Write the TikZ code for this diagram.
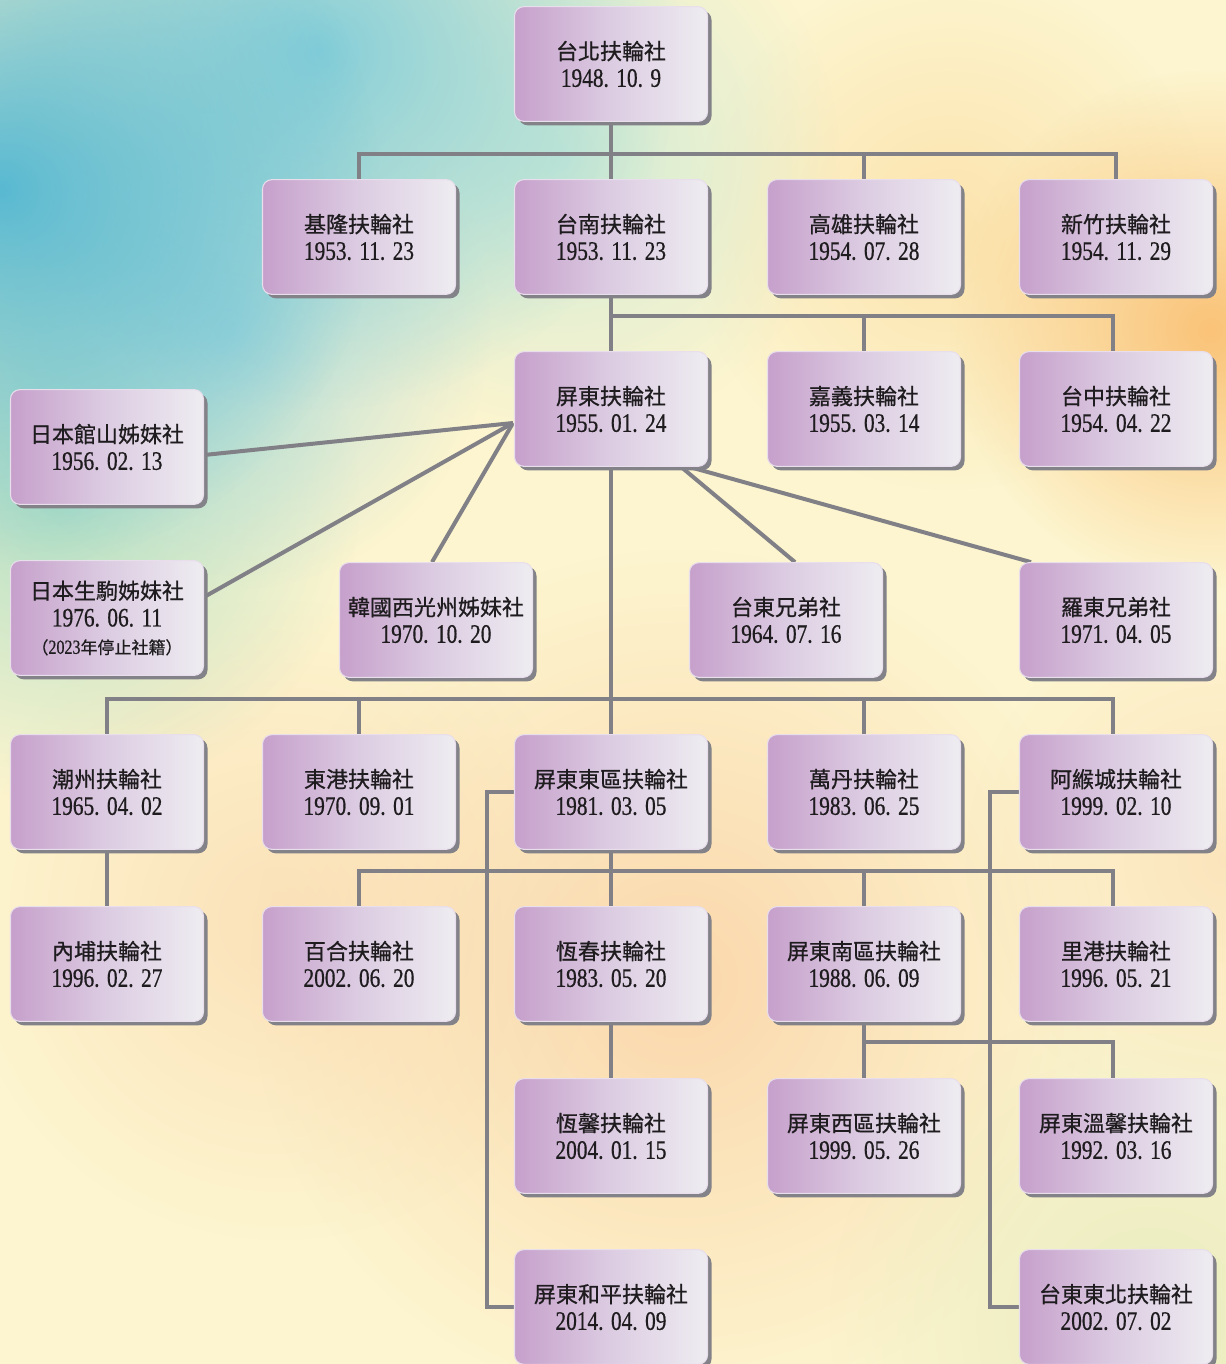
\documentclass[tikz,border=0pt]{standalone}
\usepackage{fontspec}
\setmainfont{Liberation Serif}
\newfontfamily\cjk[FakeBold=0.7]{Noto Sans CJK TC}
\newfontfamily\dfont[FakeStretch=0.8,FakeBold=0.6]{Liberation Serif}
\usetikzlibrary{shadows,fadings,calc}
\tikzfading[name=softblob, inner color=transparent!0, outer color=transparent!100]
\pgfdeclarelayer{bgl}\pgfdeclarelayer{lines}\pgfsetlayers{bgl,lines,main}
\definecolor{linegray}{RGB}{128,128,134}
\definecolor{boxL}{RGB}{198,160,203}
\definecolor{boxM}{RGB}{220,204,226}
\definecolor{boxR}{RGB}{238,236,241}
\definecolor{boxedge}{RGB}{232,222,236}
\definecolor{shadowgray}{RGB}{130,130,136}
\definecolor{txt}{RGB}{30,28,30}
\definecolor{bgbase}{RGB}{253,245,207}
\definecolor{cyanA}{RGB}{60,175,210}
\definecolor{cyanB}{RGB}{120,202,218}
\definecolor{cyanL}{RGB}{160,215,222}
\definecolor{greenC}{RGB}{160,218,195}
\definecolor{mintD}{RGB}{195,232,215}
\definecolor{orangeE}{RGB}{250,192,115}
\definecolor{peachF}{RGB}{252,215,150}
\definecolor{peachG}{RGB}{250,205,160}
\definecolor{peachH}{RGB}{250,212,170}
\definecolor{limeI}{RGB}{225,232,185}
\newcommand\nm[1]{{\cjk #1}}
\newcommand\dt[3]{{\dfont\fontsize{20}{20.5}\selectfont #1.\hspace{0.28em}#2.\hspace{0.28em}#3}}
\tikzset{
 clubbox/.style={rounded corners=7pt, minimum width=144.75pt, minimum height=86pt,
   inner sep=0pt, align=center, text=txt, draw=boxedge, line width=0.8pt,
   font=\fontsize{16.5}{20.5}\selectfont,
   left color=boxL, right color=boxR, middle color=boxM,
   drop shadow={shadow xshift=3pt, shadow yshift=-3pt, fill=shadowgray, opacity=1}},
 conn/.style={draw=linegray, line width=3pt},
 blob/.style={path fading=softblob}
}
\begin{document}
\begin{tikzpicture}[x=0.75pt,y=-0.75pt]
\useasboundingbox (0,0) rectangle (1226,1364);
% nodes
\node[clubbox] (taipei) at (611,64) {\nm{台北扶輪社}\\\dt{1948}{10}{9}};
\node[clubbox] (keelung) at (359,237) {\nm{基隆扶輪社}\\\dt{1953}{11}{23}};
\node[clubbox] (tainan) at (611,237) {\nm{台南扶輪社}\\\dt{1953}{11}{23}};
\node[clubbox] (kaohsiung) at (864,237) {\nm{高雄扶輪社}\\\dt{1954}{07}{28}};
\node[clubbox] (hsinchu) at (1116,237) {\nm{新竹扶輪社}\\\dt{1954}{11}{29}};
\node[clubbox] (pingtung) at (611,409) {\nm{屏東扶輪社}\\\dt{1955}{01}{24}};
\node[clubbox] (chiayi) at (864,409) {\nm{嘉義扶輪社}\\\dt{1955}{03}{14}};
\node[clubbox] (taichung) at (1116,409) {\nm{台中扶輪社}\\\dt{1954}{04}{22}};
\node[clubbox] (tateyama) at (107,447) {\nm{日本館山姊妹社}\\\dt{1956}{02}{13}};
\node[clubbox] (ikoma) at (107,618) {\nm{日本生駒姊妹社}\\\dt{1976}{06}{11}\\{\cjk\fontsize{12.75}{18}\selectfont （}{\dfont\fontsize{15}{18}\selectfont 2023}{\cjk\fontsize{12.75}{18}\selectfont 年停止社籍）}};
\node[clubbox] (korea) at (436,620) {\nm{韓國西光州姊妹社}\\\dt{1970}{10}{20}};
\node[clubbox] (taitungbro) at (786,620) {\nm{台東兄弟社}\\\dt{1964}{07}{16}};
\node[clubbox] (luodong) at (1116,620) {\nm{羅東兄弟社}\\\dt{1971}{04}{05}};
\node[clubbox] (chaozhou) at (107,792) {\nm{潮州扶輪社}\\\dt{1965}{04}{02}};
\node[clubbox] (donggang) at (359,792) {\nm{東港扶輪社}\\\dt{1970}{09}{01}};
\node[clubbox] (pteast) at (611,792) {\nm{屏東東區扶輪社}\\\dt{1981}{03}{05}};
\node[clubbox] (wandan) at (864,792) {\nm{萬丹扶輪社}\\\dt{1983}{06}{25}};
\node[clubbox] (akou) at (1116,792) {\nm{阿緱城扶輪社}\\\dt{1999}{02}{10}};
\node[clubbox] (neipu) at (107,964) {\nm{內埔扶輪社}\\\dt{1996}{02}{27}};
\node[clubbox] (baihe) at (359,964) {\nm{百合扶輪社}\\\dt{2002}{06}{20}};
\node[clubbox] (hengchun) at (611,964) {\nm{恆春扶輪社}\\\dt{1983}{05}{20}};
\node[clubbox] (ptsouth) at (864,964) {\nm{屏東南區扶輪社}\\\dt{1988}{06}{09}};
\node[clubbox] (ligang) at (1116,964) {\nm{里港扶輪社}\\\dt{1996}{05}{21}};
\node[clubbox] (hengxin) at (611,1136) {\nm{恆馨扶輪社}\\\dt{2004}{01}{15}};
\node[clubbox] (ptwest) at (864,1136) {\nm{屏東西區扶輪社}\\\dt{1999}{05}{26}};
\node[clubbox] (wenxin) at (1116,1136) {\nm{屏東溫馨扶輪社}\\\dt{1992}{03}{16}};
\node[clubbox] (heping) at (611,1307) {\nm{屏東和平扶輪社}\\\dt{2014}{04}{09}};
\node[clubbox] (ttne) at (1116,1307) {\nm{台東東北扶輪社}\\\dt{2002}{07}{02}};
% connectors
\begin{pgfonlayer}{lines}
\coordinate (b1) at (0,154);
\coordinate (b2) at (0,316);
\coordinate (b3) at (0,699);
\coordinate (b4) at (0,871);
\coordinate (b5) at (0,1042);
\coordinate (pL) at (513,423);
\coordinate (pR) at (680,466);
\coordinate (pR2) at (686,466);
\draw[conn] (taipei.south) -- (taipei.south |- b1);
\draw[conn] (keelung.north) -- (keelung.north |- b1) -- (hsinchu.north |- b1) -- (hsinchu.north);
\draw[conn] (tainan.north) -- (tainan.north |- b1);
\draw[conn] (kaohsiung.north) -- (kaohsiung.north |- b1);
\draw[conn] (tainan.south) -- (pingtung.north);
\draw[conn] (tainan.south |- b2) -- ([xshift=-2pt]taichung.north |- b2) -- ([xshift=-2pt]taichung.north);
\draw[conn] (chiayi.north) -- (chiayi.north |- b2);
\draw[conn] (pL) -- ($(tateyama.east)+(0,8)$);
\draw[conn] (pL) -- ($(ikoma.east)+(0,-21)$);
\draw[conn] (pL) -- ($(korea.north)+(-4,0)$);
\draw[conn] (pR) -- ($(taitungbro.north)+(9,0)$);
\draw[conn] (pR2) -- ($(luodong.north west)+(12,0)$);
\draw[conn] (pingtung.south) -- (pteast.north);
\draw[conn] (chaozhou.north) -- (chaozhou.north |- b3) -- ([xshift=-2pt]akou.north |- b3) -- ([xshift=-2pt]akou.north);
\draw[conn] (donggang.north) -- (donggang.north |- b3);
\draw[conn] (wandan.north) -- (wandan.north |- b3);
\draw[conn] (chaozhou.south) -- (neipu.north);
\draw[conn] (pteast.south) -- (hengchun.north);
\draw[conn] (baihe.north) -- (baihe.north |- b4) -- ([xshift=-2pt]ligang.north |- b4) -- ([xshift=-2pt]ligang.north);
\draw[conn] (ptsouth.north) -- (ptsouth.north |- b4);
\draw[conn] (hengchun.south) -- (hengxin.north);
\draw[conn] (ptsouth.south) -- (ptwest.north);
\draw[conn] (ptsouth.south |- b5) -- ([xshift=-2pt]wenxin.north |- b5) -- ([xshift=-2pt]wenxin.north);
\draw[conn] (pteast.west) -- ++(-27,0) |- (heping.west);
\draw[conn] (akou.west) -- ++(-29,0) |- (ttne.west);
\end{pgfonlayer}
% background
\begin{pgfonlayer}{bgl}
\begin{scope}
\clip (0,0) rectangle (1226,1364);
\fill[bgbase] (-10,-10) rectangle (1240,1380);
\fill[peachG, blob, opacity=0.75] (680,980) circle (430);
\fill[peachH, blob, opacity=0.6] (280,920) circle (320);
\fill[peachH, blob, opacity=0.5] (1226,860) circle (260);
\fill[limeI, blob, opacity=0.7] (1150,1320) circle (320);
\fill[peachF, blob, opacity=0.6] (950,230) circle (260);
\fill[orangeE, blob, opacity=0.95] (1210,330) circle (260);
\fill[mintD, blob, opacity=0.8] (560,160) circle (280);
\fill[greenC, blob, opacity=0.8] (60,500) circle (300);
\fill[cyanL, blob, opacity=0.8] (230,330) circle (260);
\fill[cyanB, blob, opacity=0.9] (320,50) circle (360);
\fill[cyanA, blob, opacity=0.85] (0,190) circle (380);
\end{scope}
\end{pgfonlayer}
\end{tikzpicture}
\end{document}
